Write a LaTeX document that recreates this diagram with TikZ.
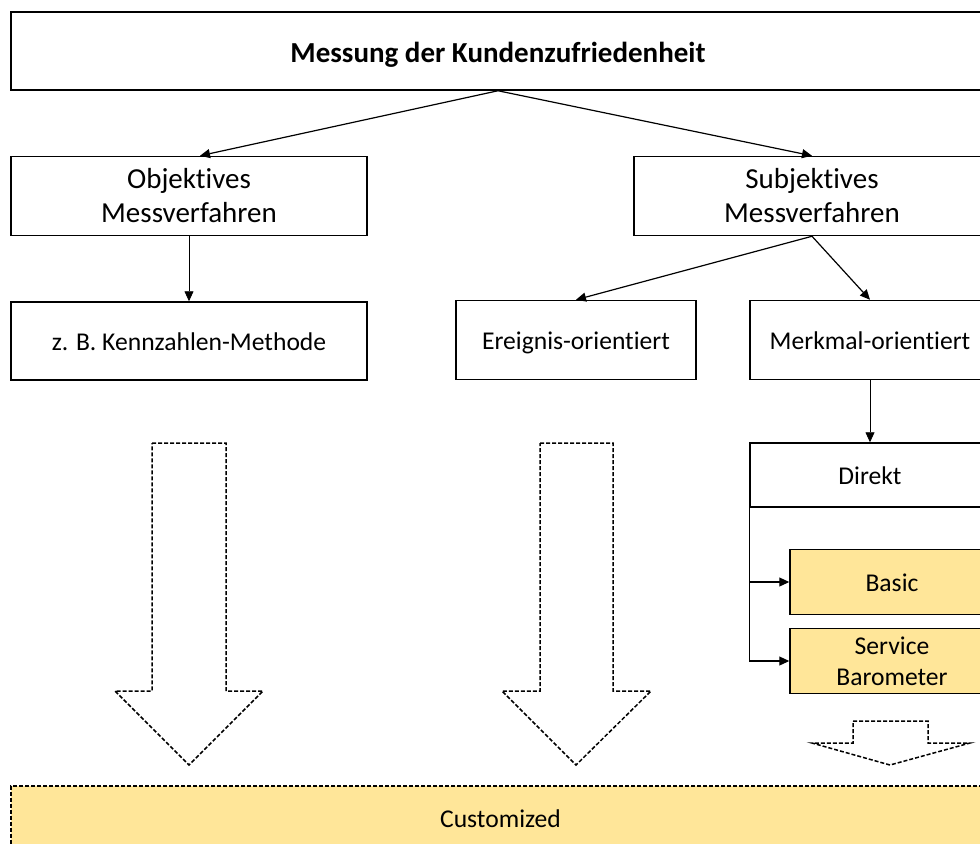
\documentclass[tikz,border=0pt]{standalone}
\usepackage{fontspec}
\setmainfont{Carlito}[Ligatures=NoCommon]
\usetikzlibrary{arrows.meta}
\definecolor{hellgelb}{HTML}{FFE699}
\newcommand{\grossschrift}{\fontsize{14.5}{17}\selectfont}
\newcommand{\kleinschrift}{\fontsize{12.8}{15.5}\selectfont}

\begin{document}
\begin{tikzpicture}[x=0.5pt,y=-0.5pt,
    kasten/.style={draw, line width=0.75pt, align=center, inner sep=0pt, font=\kleinschrift},
    zeile/.style={text height=10.5pt, text depth=1pt},
    gross/.style={kasten, font=\grossschrift},
    gelb/.style={kasten, fill=hellgelb},
    pfeil/.style={-{Triangle[length=5pt,width=4.5pt]}, line width=0.6pt},
    duenn/.style={-{Triangle[length=5pt,width=4.5pt]}, line width=0.4pt},
    gestrichelt/.style={line width=0.75pt, dash pattern=on 2pt off 1pt},
    block/.style={draw, gestrichelt, fill=white}]
    \useasboundingbox (0,0) rectangle (980,843);
    \clip (0,0) rectangle (980,843);

    \node[gross, text height=12pt, text depth=1pt, minimum width=487pt, minimum height=39pt] (titel) at (498,51) {\textbf{Messung der Kundenzufriedenheit}};

    \node[gross, minimum width=178pt, minimum height=39.5pt] (obj) at (189,196) {Objektives\\Messverfahren};
    \node[gross, minimum width=178pt, minimum height=39.5pt] (subj) at (812,196) {Subjektives\\Messverfahren};

    \node[kasten, zeile, minimum width=178pt, minimum height=39pt] (kenn) at (189,341) {z. B. Kennzahlen-Methode};
    \node[kasten, zeile, minimum width=120pt, minimum height=39.5pt] (ereig) at (576,340) {Ereignis-orientiert};
    \node[kasten, zeile, minimum width=120pt, minimum height=39.5pt] (merk) at (870,340) {Merkmal-orientiert};

    \node[kasten, zeile, minimum width=120pt, minimum height=32pt] (direkt) at (870,475) {Direkt};
    \node[gelb, zeile, minimum width=102pt, minimum height=32.5pt] (basic) at (892,582) {Basic};
    \node[gelb, minimum width=102pt, minimum height=32.5pt] (servbar) at (892,661) {Service\\Barometer};

    \node[kasten, zeile, gestrichelt, fill=hellgelb, minimum width=489.5pt, minimum height=32pt] (custom) at (500.5,818) {Customized};

    % Verbindungen
    \draw[pfeil] (titel.south) -- ([xshift=5.5pt]obj.north);
    \draw[pfeil] (titel.south) -- (subj.north);
    \draw[duenn] (obj.south) -- (kenn.north);
    \draw[pfeil] (subj.south) -- (ereig.north);
    \draw[pfeil] (subj.south) -- (merk.north);
    \draw[duenn] (merk.south) -- (direkt.north);
    \draw[pfeil] (direkt.south west) |- (basic.west);
    \draw[pfeil] (direkt.south west) |- (servbar.west);

    % Blockpfeile
    \draw[block] (152,443) -- (226,443) -- (226,691) -- (263,691) -- (189,765) -- (115,691) -- (152,691) -- cycle;
    \draw[block] (540,443) -- (613,443) -- (613,691) -- (651,691) -- (576,765) -- (502,691) -- (540,691) -- cycle;
    \draw[block] (853,721) -- (928,721) -- (928,743) -- (970,743) -- (890,765) -- (812,743) -- (853,743) -- cycle;
\end{tikzpicture}
\end{document}
